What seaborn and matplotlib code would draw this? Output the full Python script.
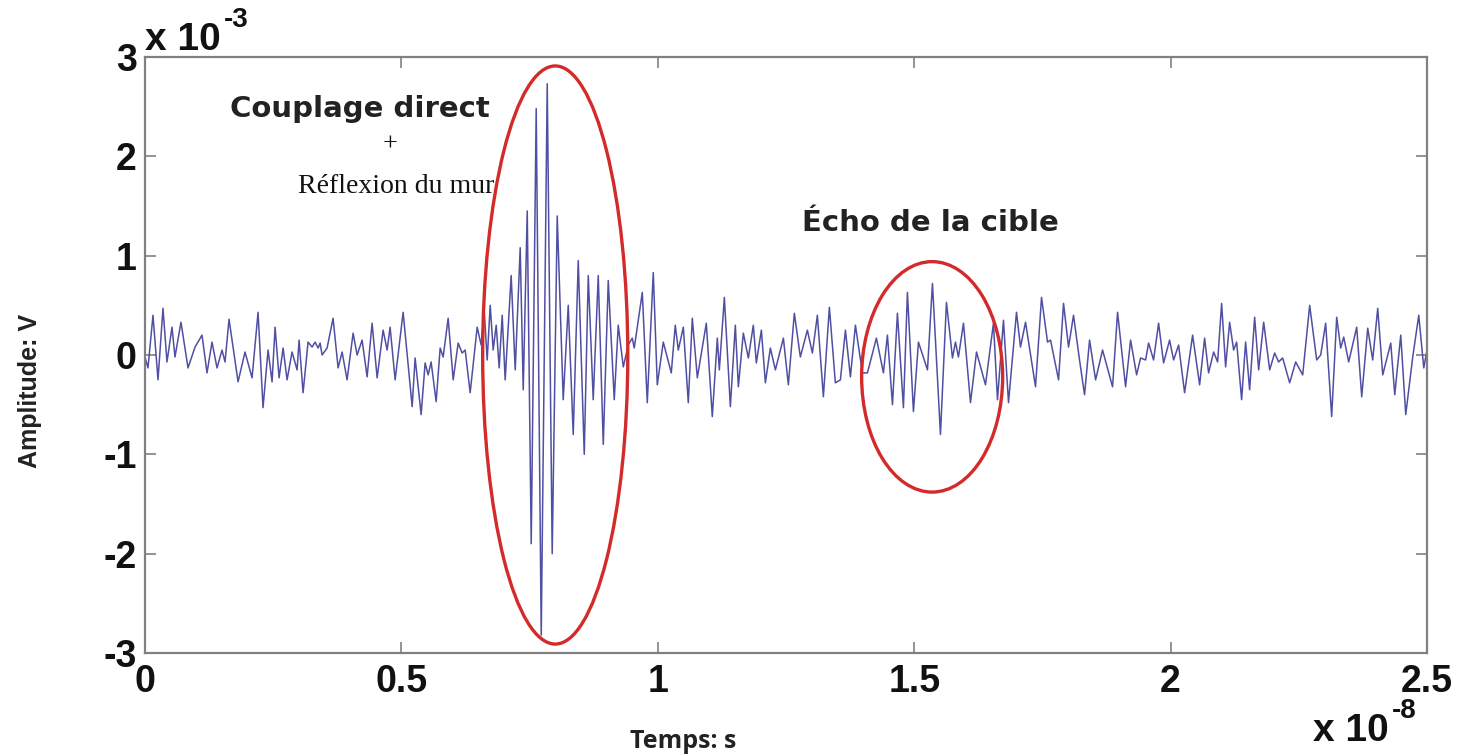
import numpy as np
import pandas as pd
import matplotlib
matplotlib.use("Agg")
import matplotlib.pyplot as plt
from matplotlib.patches import Ellipse
import seaborn as sns

# ---- data (time in units of 1e-8 s, amplitude in units of 1e-3 V) ----
time_e8 = [
    0.0000, 0.0059, 0.0156, 0.0254, 0.0351, 0.0429, 0.0527, 0.0585, 0.0702, 0.0839,
    0.0976, 0.1112, 0.1210, 0.1307, 0.1405, 0.1502, 0.1561, 0.1639, 0.1815, 0.1951,
    0.2088, 0.2205, 0.2302, 0.2400, 0.2478, 0.2537, 0.2615, 0.2693, 0.2771, 0.2868,
    0.2966, 0.3005, 0.3083, 0.3180, 0.3259, 0.3317, 0.3376, 0.3415, 0.3454, 0.3551,
    0.3668, 0.3766, 0.3844, 0.3941, 0.4059, 0.4137, 0.4234, 0.4332, 0.4429, 0.4527,
    0.4644, 0.4722, 0.4780, 0.4878, 0.5034, 0.5210, 0.5268, 0.5385, 0.5463, 0.5522,
    0.5580, 0.5678, 0.5756, 0.5815, 0.5912, 0.6010, 0.6107, 0.6185, 0.6244, 0.6341,
    0.6478, 0.6556, 0.6615, 0.6673, 0.6732, 0.6790, 0.6849, 0.6907, 0.6966, 0.7024,
    0.7141, 0.7220, 0.7317, 0.7376, 0.7454, 0.7532, 0.7629, 0.7727, 0.7844, 0.7941,
    0.8039, 0.8156, 0.8254, 0.8351, 0.8449, 0.8566, 0.8644, 0.8741, 0.8839, 0.8937,
    0.9034, 0.9151, 0.9229, 0.9327,
    0.9424, 0.9502, 0.9541, 0.9698, 0.9795, 0.9912, 0.9990, 1.0107, 1.0263, 1.0341,
    1.0400, 1.0498, 1.0595, 1.0673, 1.0771, 1.0946, 1.1063, 1.1161, 1.1200, 1.1298,
    1.1415, 1.1512, 1.1571, 1.1668, 1.1766, 1.1863, 1.1922, 1.2020, 1.2098, 1.2195,
    1.2293, 1.2449, 1.2546, 1.2663, 1.2780, 1.2917, 1.3015, 1.3112, 1.3229, 1.3346,
    1.3463, 1.3561, 1.3659, 1.3756, 1.3854, 1.3990, 1.4088, 1.4263, 1.4400, 1.4478,
    1.4576, 1.4673, 1.4790, 1.4868, 1.4985, 1.5083, 1.5259, 1.5356, 1.5512, 1.5629,
    1.5746, 1.5805, 1.5863, 1.5961, 1.6098, 1.6215, 1.6390, 1.6546, 1.6624, 1.6741,
    1.6839, 1.6995, 1.7073, 1.7171, 1.7366, 1.7483, 1.7600, 1.7659, 1.7815, 1.7912,
    1.8010, 1.8107, 1.8224, 1.8322, 1.8420, 1.8537, 1.8673, 1.8868, 1.8966, 1.9122,
    1.9220, 1.9337, 1.9415, 1.9512, 1.9571, 1.9668, 1.9766, 1.9863, 1.9980, 2.0059,
    2.0156, 2.0273, 2.0429, 2.0566, 2.0663, 2.0741, 2.0839, 2.0917, 2.0995, 2.1073,
    2.1151, 2.1229, 2.1288, 2.1385, 2.1463, 2.1541, 2.1639, 2.1717, 2.1815, 2.1932,
    2.2029, 2.2107, 2.2185, 2.2322, 2.2439, 2.2576, 2.2712, 2.2849, 2.2927, 2.3024,
    2.3141, 2.3239, 2.3317, 2.3376, 2.3473, 2.3629, 2.3727, 2.3844, 2.3941, 2.4039,
    2.4137, 2.4293, 2.4371, 2.4488, 2.4585, 2.4722, 2.4839, 2.4937, 2.5000,
]
amplitude_e3 = [
    -0.02, -0.13, 0.40, -0.25, 0.47, -0.07, 0.28, -0.02, 0.33, -0.13,
    0.08, 0.20, -0.18, 0.13, -0.13, 0.05, -0.07, 0.36, -0.27, 0.03,
    -0.23, 0.43, -0.53, 0.05, -0.27, 0.28, -0.23, 0.07, -0.25, 0.03,
    -0.15, 0.15, -0.38, 0.13, 0.08, 0.13, 0.07, 0.12, 0.00, 0.07,
    0.37, -0.13, 0.03, -0.25, 0.22, 0.00, 0.15, -0.22, 0.32, -0.23,
    0.25, 0.05, 0.28, -0.25, 0.43, -0.52, -0.03, -0.60, -0.08, -0.20,
    -0.07, -0.47, 0.07, -0.02, 0.37, -0.25, 0.12, 0.02, 0.05, -0.38,
    0.28, 0.10, 0.45, -0.05, 0.50, 0.05, 0.30, -0.13, 0.40, -0.25,
    0.80, -0.15, 1.08, -0.35, 1.45, -1.90, 2.48, -2.82, 2.73, -2.00,
    1.40, -0.45, 0.50, -0.80, 0.95, -1.00, 0.80, -0.45, 0.80, -0.90,
    0.75, -0.45, 0.30, -0.12,
    0.10, 0.17, 0.07, 0.63, -0.48, 0.83, -0.30, 0.13, -0.18, 0.30,
    0.05, 0.28, -0.48, 0.37, -0.23, 0.32, -0.62, 0.17, -0.15, 0.58,
    -0.52, 0.30, -0.32, 0.22, -0.03, 0.30, -0.08, 0.25, -0.28, 0.07,
    -0.15, 0.17, -0.30, 0.42, -0.02, 0.25, 0.02, 0.40, -0.42, 0.48,
    -0.28, -0.25, 0.25, -0.22, 0.30, -0.18, -0.18, 0.17, -0.18, 0.20,
    -0.50, 0.42, -0.53, 0.63, -0.57, 0.13, -0.15, 0.72, -0.80, 0.53,
    -0.03, 0.13, -0.02, 0.32, -0.48, 0.03, -0.30, 0.32, -0.45, 0.35,
    -0.48, 0.43, 0.08, 0.33, -0.32, 0.58, 0.13, 0.15, -0.25, 0.52,
    0.08, 0.40, -0.05, -0.40, 0.15, -0.25, 0.05, -0.32, 0.43, -0.32,
    0.15, -0.20, -0.03, -0.05, 0.12, -0.05, 0.32, -0.08, 0.15, -0.05,
    0.10, -0.38, 0.20, -0.30, 0.17, -0.18, 0.03, -0.07, 0.52, -0.12,
    0.33, 0.05, 0.13, -0.45, 0.13, -0.35, 0.38, -0.15, 0.33, -0.15,
    0.02, -0.07, -0.03, -0.28, -0.07, -0.20, 0.50, -0.05, 0.00, 0.32,
    -0.62, 0.38, 0.07, 0.18, -0.07, 0.28, -0.42, 0.27, -0.05, 0.47,
    -0.20, 0.12, -0.40, 0.20, -0.60, -0.02, 0.40, -0.13, 0.05,
]
x_ticks = [0, 0.5, 1, 1.5, 2, 2.5]
x_tick_labels = ["0", "0.5", "1", "1.5", "2", "2.5"]
y_ticks = [-3, -2, -1, 0, 1, 2, 3]
y_tick_labels = ["-3", "-2", "-1", "0", "1", "2", "3"]

df = pd.DataFrame({"t": time_e8, "v": amplitude_e3})

sns.set_style("white")
plt.rcParams["font.family"] = ["Liberation Sans", "DejaVu Sans"]

fig = plt.figure(figsize=(14.6, 7.55), dpi=100)
ax = fig.add_axes([0.0993, 0.1351, 0.8781, 0.7894])

sns.lineplot(data=df, x="t", y="v", ax=ax, sort=False, estimator=None,
             color="#4f4fa3", linewidth=1.1)

ax.set_xlim(0, 2.5)
ax.set_ylim(-3, 3)
ax.set_xticks(x_ticks)
ax.set_xticklabels(x_tick_labels)
ax.set_yticks(y_ticks)
ax.set_yticklabels(y_tick_labels)
ax.set_xlabel("")
ax.set_ylabel("")

for s in ax.spines.values():
    s.set_color("#808080")
    s.set_linewidth(1.6)
ax.tick_params(axis="both", which="both", direction="in", length=8, width=1.2,
               color="#808080", top=True, right=True, bottom=True, left=True,
               labelsize=27)
ax.tick_params(axis="x", pad=8)
ax.tick_params(axis="y", pad=6)
for lab in ax.get_xticklabels() + ax.get_yticklabels():
    lab.set_fontweight("bold")
    lab.set_color("#111111")

# multiplier texts (MATLAB style): base "x 10" then raised exponent
txt_kw = dict(fontweight="bold", color="#111111", va="baseline", ha="left")
renderer = fig.canvas.get_renderer()


def multiplier(x_px, base_px, exponent):
    W, H = fig.bbox.width, fig.bbox.height
    t = fig.text(x_px / W, 1 - base_px / H, "x 10", fontsize=28, **txt_kw)
    bb = t.get_window_extent(renderer=renderer)
    fig.text((bb.x1 + 3) / W, 1 - (base_px - 23) / H, exponent, fontsize=20, **txt_kw)


multiplier(145, 50, "-3")
multiplier(1313, 741, "-8")

# axis labels
fig.text(0.0205, 0.482, "Amplitude: V", rotation=90, fontsize=18, fontweight="bold",
         ha="center", va="center", family=["Liberation Sans Narrow", "Liberation Sans"],
         color="#222222")
fig.text(0.468, 0.0185, "Temps: s", fontsize=18, fontweight="bold",
         ha="center", va="center", family=["Open Sans", "DejaVu Sans"], color="#222222")

# annotations
ax.text(0.4195, 2.48, "Couplage direct", fontsize=21, fontweight="bold",
        ha="center", va="center", family=["DejaVu Sans"], color="#222222")
ax.text(0.478, 2.12, "+", fontsize=19, ha="center", va="center",
        family=["Liberation Serif", "DejaVu Serif"], color="#111111")
ax.text(0.490, 1.70, "Réflexion du mur", fontsize=20, ha="center", va="center",
        family=["Liberation Serif", "DejaVu Serif"], color="#111111")
ax.text(1.532, 1.33, "Écho de la cible", fontsize=21, fontweight="bold",
        ha="center", va="center", family=["DejaVu Sans"], color="#222222")

ax.add_patch(Ellipse((0.800, 0.0), 0.283, 5.82, fill=False, edgecolor="#d42a2a",
                     linewidth=2.4, zorder=5))
ax.add_patch(Ellipse((1.535, -0.22), 0.275, 2.32, fill=False, edgecolor="#d42a2a",
                     linewidth=2.4, zorder=5))

fig.savefig("out.png", dpi=100)
